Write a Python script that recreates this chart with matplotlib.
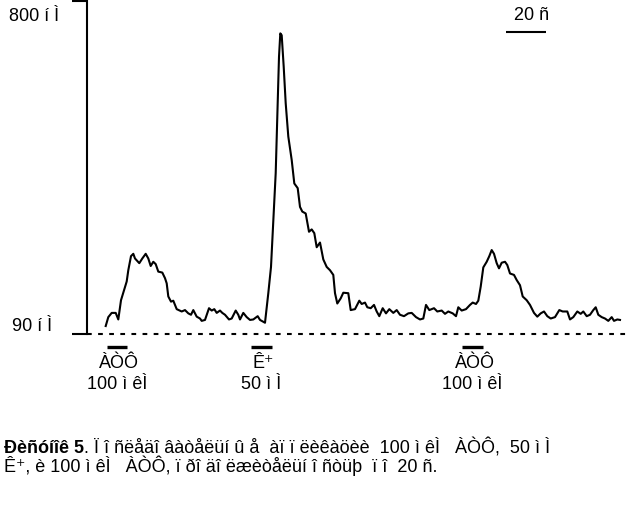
import matplotlib
matplotlib.use('Agg')
import matplotlib.pyplot as plt
import matplotlib.transforms as mtransforms

plt.rcParams['font.family'] = ['Liberation Sans', 'DejaVu Sans']
plt.rcParams['lines.scale_dashes'] = False

# ---- data (time in s, concentration in nM) ----
time_s = [9.35, 10.65, 12.35, 14.35, 15.65, 17.0, 18.65, 19.85, 20.65, 22.0,
          23.15, 24.0, 26.15, 27.65, 29.35, 30.65, 31.85, 33.15, 34.35, 35.65,
          37.65, 39.0, 39.85, 40.65, 42.0, 43.15, 44.85, 47.35, 49.0, 50.65,
          52.0, 53.15, 54.85, 56.5, 57.35, 59.0, 61.0, 62.35, 63.65, 64.85,
          66.5, 67.65, 69.0, 71.0, 72.35, 74.35, 75.65, 76.5, 78.15, 79.85,
          81.5, 83.15, 85.35, 86.5, 88.15, 89.0, 90.65, 92.0, 93.15, 94.35,
          95.35, 96.0, 96.65, 97.35, 98.35, 99.35, 100.65, 102.35, 103.65, 105.35,
          106.5, 107.65, 109.35, 111.0, 112.35, 113.65, 114.85, 116.5, 118.15, 119.85,
          121.5, 123.15, 124.0, 125.15, 126.85, 128.15, 130.65, 131.85, 134.0, 136.15,
          137.35, 139.0, 140.15, 141.85, 143.5, 144.85, 146.15, 147.85, 149.5, 151.15,
          153.15, 154.85, 156.5, 158.5, 160.65, 162.35, 164.5, 166.5, 168.15, 169.5,
          171.15, 173.5, 175.15, 177.35, 179.0, 180.65, 182.85, 184.5, 185.65, 187.35,
          189.5, 191.5, 192.85, 194.5, 195.65, 196.85, 198.15, 199.85, 201.15, 202.35,
          203.5, 204.85, 206.0, 207.35, 209.0, 210.15, 211.5, 213.5, 214.85, 216.5,
          217.85, 219.85, 221.5, 223.5, 225.15, 226.85, 228.5, 230.15, 231.85, 234.0,
          236.15, 237.85, 240.15, 241.5, 243.15, 245.15, 246.85, 248.15, 249.85, 251.5,
          253.15, 254.35, 255.65, 257.35, 259.0, 260.65, 262.35, 263.5, 265.15, 266.5]
ca_nM = [107, 126, 135, 135, 121, 162, 185, 202, 226, 256,
         261, 251, 241, 251, 261, 251, 235, 244, 239, 223,
         221, 209, 198, 170, 159, 161, 143, 138, 141, 134,
         131, 141, 127, 123, 118, 120, 145, 140, 143, 135,
         140, 135, 131, 121, 123, 140, 131, 121, 135, 126,
         120, 121, 128, 120, 116, 114, 177, 233, 333, 433,
         582, 681, 731, 727, 660, 582, 511, 461, 411, 401,
         361, 351, 347, 308, 313, 305, 275, 285, 249, 233,
         226, 216, 177, 155, 166, 178, 177, 141, 143, 161,
         154, 157, 147, 145, 152, 138, 128, 145, 134, 143,
         135, 141, 131, 128, 134, 135, 126, 121, 123, 152,
         141, 145, 138, 140, 133, 138, 134, 128, 147, 140,
         143, 152, 157, 154, 161, 191, 232, 244, 256, 269,
         261, 241, 230, 242, 244, 237, 219, 216, 205, 194,
         170, 162, 152, 135, 127, 134, 138, 128, 123, 126,
         141, 138, 138, 121, 126, 138, 133, 138, 128, 131,
         141, 147, 131, 126, 123, 118, 126, 118, 121, 120]

stim_on = [9.9, 81.9, 187.4]
stim_off = [20.2, 92.4, 198.2]
stim_names = ['ÀÒÔ', 'Ê⁺', 'ÀÒÔ']
stim_doses = ['100 ì êÌ', '50 ì Ì', '100 ì êÌ']

y_ticks = [90, 800]
y_tick_labels = ['90 í Ì', '800 í Ì']

scale_start = 209.3
scale_len = 20
scale_label = '20 ñ'

caption_bold = 'Ðèñóíîê 5'
caption_rest = '. Ï î ñëåäî âàòåëüí û å  àï ï ëèêàöèè  100 ì êÌ   ÀÒÔ,  50 ì Ì'
caption_line2 = 'Ê⁺, è 100 ì êÌ   ÀÒÔ, ï ðî äî ëæèòåëüí î ñòüþ  ï î  20 ñ.'

# ---- figure ----
W, H = 628, 513
fig = plt.figure(figsize=(W / 100, H / 100), dpi=100)
ax = fig.add_axes([87 / W, (H - 334) / H, 541 / W, 333 / H])
ax.set_xlim(0, 270.5)
ax.set_ylim(y_ticks[0], y_ticks[1])
for s in ['top', 'right', 'bottom']:
    ax.spines[s].set_visible(False)
ax.spines['left'].set_linewidth(1.5)
ax.spines['left'].set_capstyle('projecting')
ax.set_xticks([])
ax.set_yticks(y_ticks)
ax.set_yticklabels([''] * len(y_ticks))
ax.tick_params(axis='y', length=11, width=1.5, direction='out')

# baseline
ax.axhline(y_ticks[0], color='black', lw=1.5, linestyle=(0, (3.4, 4.6)), clip_on=False)

# trace
ax.plot(time_s, ca_nM, color='black', lw=1.5, clip_on=False)

fs = 13
# y labels
fig.text(9 / W, 1 - 21 / H, y_tick_labels[1], fontsize=fs, ha='left', va='baseline')
fig.text(12 / W, 1 - 331 / H, y_tick_labels[0], fontsize=fs, ha='left', va='baseline')

# stimulus bars and labels
tr = mtransforms.blended_transform_factory(ax.transData, fig.transFigure)
for on, off, nm, dose in zip(stim_on, stim_off, stim_names, stim_doses):
    ax.plot([on, off], [1 - 347 / H] * 2, transform=tr, color='black', lw=2.4,
            solid_capstyle='butt', clip_on=False)
    c = (on + off) / 2
    fig.text(c + 1, 1 - 367.5 / H, nm, transform=tr, fontsize=fs, ha='center', va='baseline')
    fig.text(c, 1 - 389 / H, dose, transform=tr, fontsize=fs, ha='center', va='baseline')

# scale bar
ax.plot([scale_start, scale_start + scale_len], [1 - 32 / H] * 2, transform=tr,
        color='black', lw=1.5, solid_capstyle='butt', clip_on=False)
fig.text(scale_start + scale_len / 2 + 3, 1 - 20 / H, scale_label, transform=tr,
         fontsize=fs, ha='center', va='baseline')

# caption
t1 = fig.text(4 / W, 1 - 453 / H, caption_bold, fontsize=fs, weight='bold',
              ha='left', va='baseline')
fig.canvas.draw()
bb = t1.get_window_extent()
fig.text(bb.x1 / W, 1 - 453 / H, caption_rest, fontsize=fs, ha='left', va='baseline')
fig.text(4 / W, 1 - 472 / H, caption_line2, fontsize=fs, ha='left', va='baseline')

fig.savefig('out.png', dpi=100)
